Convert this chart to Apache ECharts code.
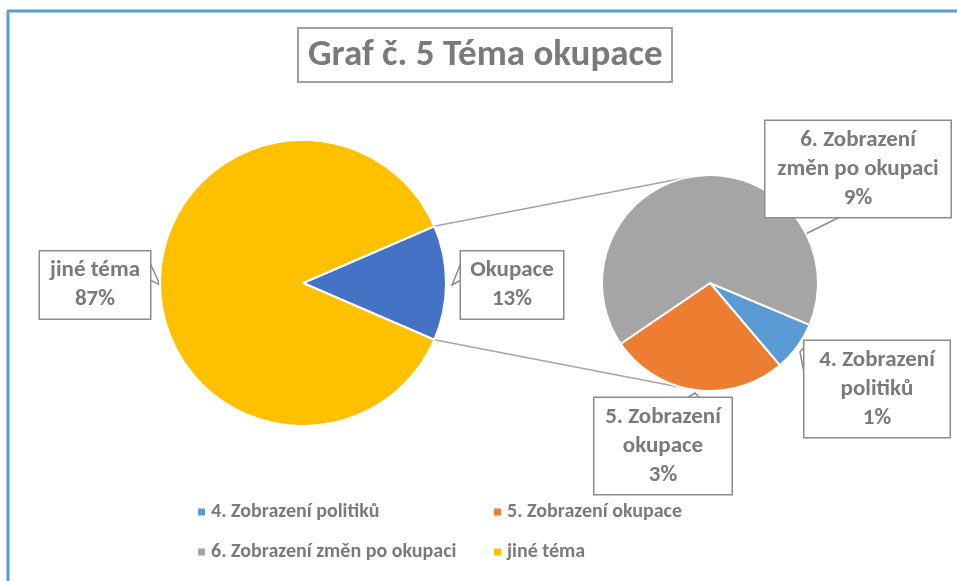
<!DOCTYPE html>
<html>
<head>
<meta charset="utf-8">
<title>Graf č. 5 Téma okupace</title>
<script src="https://cdn.jsdelivr.net/npm/echarts@6/dist/echarts.min.js"></script>
<style>
body{ margin:0; background:#fff; }
#chart{ width:957px; height:581px; }
</style>
</head>
<body>
<div id="chart"></div>
<script>
// data
var mainNames = ['Okupace', 'jiné téma'];
var mainValues = [13, 87];
var mainLabels = ['Okupace', 'jiné téma'];

var subNames = ['4. Zobrazení politiků', '5. Zobrazení okupace', '6. Zobrazení změn po okupaci'];
var subValues = [0.97, 3.47, 8.56];
var subLabels = ['4. Zobrazení\npolitiků', '5. Zobrazení\nokupace', '6. Zobrazení\nzměn po okupaci'];

var legendLeft = ['4. Zobrazení politiků', '6. Zobrazení změn po okupaci'];
var legendRight = ['5. Zobrazení okupace', 'jiné téma'];

// styles
var mainColors = ['#4472c4', '#ffc000'];
var subColors = ['#5b9bd5', '#ed7d31', '#a5a5a5'];
var FONT = "Carlito, 'Liberation Sans Narrow', 'DejaVu Sans Condensed', 'Open Sans', sans-serif";
var TXT = '#7a7a7a';

var mainCenter = [303, 283], mainR = 143;
var subCenter = [710, 283], subR = 108;

var total = mainValues.reduce(function(a, b){ return a + b; }, 0);
var okupHalf = mainValues[0] / total * Math.PI; // half angle of the "Okupace" slice
var mainStart = okupHalf * 180 / Math.PI;
// secondary pie starts where the first small slice begins
var subStart = -22.8;

// callout boxes: centre, width, pointer (three points)
var callouts = {
    'Okupace': {x: 512, y: 285, w: 90, ptr: [[461, 263], [452, 285], [461, 280]]},
    'jiné téma': {x: 95, y: 285, w: 98, ptr: [[150, 263], [160, 285], [150, 280]]},
    '4. Zobrazení politiků': {x: 877, y: 389, w: 133, ptr: [[805, 346], [800, 352], [805, 378]]},
    '5. Zobrazení okupace': {x: 663, y: 446, w: 125, ptr: [[687, 398], [695, 393], [700, 398]]},
    '6. Zobrazení změn po okupaci': {x: 858, y: 169, w: 173, ptr: [[793, 217], [777, 248], [840, 217]]}
};

function pct(v){ return Math.round(v / total * 100) + '%'; }

var labelBase = {
    show: true,
    position: 'outside',
    fontFamily: FONT,
    fontWeight: 'bold',
    fontSize: 23,
    lineHeight: 29,
    color: TXT,
    align: 'center',
    backgroundColor: '#fff',
    borderColor: '#8c8c8c',
    borderWidth: 1.5,
    padding: [5, 6, 4, 6],
    overflow: 'none'
};

function buildData(names, values, labels, colors){
    return names.map(function(n, i){
        return {
            name: n,
            value: values[i],
            itemStyle: {color: colors[i]},
            label: {formatter: labels[i] + '\n' + pct(values[i]), width: callouts[n].w}
        };
    });
}

function layoutFor(series){
    return function(params){
        var c = callouts[series[params.dataIndex]];
        return {x: c.x, y: c.y, align: 'center', verticalAlign: 'middle', labelLinePoints: c.ptr};
    };
}

// connector lines from the Okupace slice edges to tangents on the small pie
function tangent(p, upper){
    var dx = p[0] - subCenter[0], dy = p[1] - subCenter[1];
    var d = Math.sqrt(dx * dx + dy * dy);
    var th = Math.atan2(dy, dx);
    var a = Math.acos(subR / d);
    var t = upper ? th + a : th - a;
    return [subCenter[0] + subR * Math.cos(t), subCenter[1] + subR * Math.sin(t)];
}
var pTop = [mainCenter[0] + mainR * Math.cos(okupHalf), mainCenter[1] - mainR * Math.sin(okupHalf)];
var pBot = [mainCenter[0] + mainR * Math.cos(okupHalf), mainCenter[1] + mainR * Math.sin(okupHalf)];
var tTop = tangent(pTop, true), tBot = tangent(pBot, false);

var legendText = {fontFamily: FONT, fontWeight: 'bold', fontSize: 20, color: TXT};

var chart = echarts.init(document.getElementById('chart'));
chart.setOption({
    animation: false,
    title: {
        text: 'Graf č. 5 Téma okupace',
        left: 298,
        top: 28,
        padding: [8, 10, 6, 10],
        borderColor: '#a0a0a0',
        borderWidth: 2,
        textStyle: {fontFamily: FONT, fontWeight: 'bold', fontSize: 37, lineHeight: 40, color: TXT}
    },
    legend: [{
        data: legendLeft,
        orient: 'vertical',
        left: 196, top: 502, padding: 0,
        itemWidth: 9, itemHeight: 9, itemGap: 20, icon: 'rect',
        textStyle: legendText
    }, {
        data: legendRight,
        orient: 'vertical',
        left: 492, top: 502, padding: 0,
        itemWidth: 9, itemHeight: 9, itemGap: 20, icon: 'rect',
        textStyle: legendText
    }],
    graphic: [
        {type: 'line', shape: {x1: 7, y1: 11, x2: 957, y2: 11}, style: {stroke: '#5b9bd5', lineWidth: 3}},
        {type: 'line', shape: {x1: 8, y1: 11, x2: 8, y2: 581}, style: {stroke: '#5b9bd5', lineWidth: 3}},
        {type: 'line', z: -1, shape: {x1: pTop[0], y1: pTop[1], x2: tTop[0], y2: tTop[1]}, style: {stroke: '#a5a5a5', lineWidth: 1.5}},
        {type: 'line', z: -1, shape: {x1: pBot[0], y1: pBot[1], x2: tBot[0], y2: tBot[1]}, style: {stroke: '#a5a5a5', lineWidth: 1.5}}
    ],
    series: [{
        type: 'pie',
        center: mainCenter,
        radius: mainR,
        startAngle: mainStart,
        clockwise: true,
        avoidLabelOverlap: false,
        emphasis: {disabled: true},
        itemStyle: {borderColor: '#fff', borderWidth: 2},
        label: labelBase,
        labelLine: {show: true, lineStyle: {color: '#8c8c8c', width: 1.5}},
        labelLayout: layoutFor(mainNames),
        data: buildData(mainNames, mainValues, mainLabels, mainColors)
    }, {
        type: 'pie',
        center: subCenter,
        radius: subR,
        startAngle: subStart,
        clockwise: true,
        avoidLabelOverlap: false,
        emphasis: {disabled: true},
        itemStyle: {borderColor: '#fff', borderWidth: 2},
        label: labelBase,
        labelLine: {show: true, lineStyle: {color: '#8c8c8c', width: 1.5}},
        labelLayout: layoutFor(subNames),
        data: buildData(subNames, subValues, subLabels, subColors)
    }]
});
</script>
</body>
</html>
